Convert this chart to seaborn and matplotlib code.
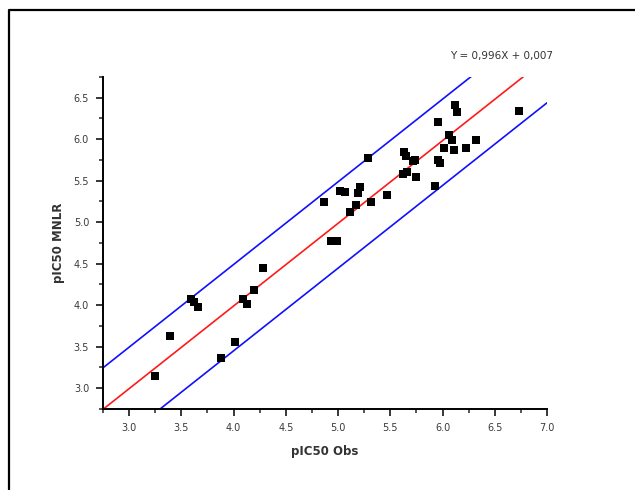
import matplotlib
matplotlib.use("Agg")
import matplotlib.pyplot as plt
from matplotlib.lines import Line2D
from matplotlib.ticker import MultipleLocator, FormatStrFormatter
import numpy as np
import pandas as pd
import seaborn as sns

# Observed vs predicted activities
pic50_obs = [3.25, 3.39, 3.59, 3.62, 3.66, 3.88, 4.01, 4.09, 4.13, 4.20, 4.28,
             4.87, 4.93, 4.99, 5.02, 5.07, 5.11, 5.17, 5.19, 5.21, 5.29, 5.32,
             5.47, 5.63, 5.65, 5.62, 5.66, 5.72, 5.74, 5.75, 5.93, 5.96, 5.96,
             5.98, 6.01, 6.06, 6.09, 6.11, 6.12, 6.14, 6.22, 6.32, 6.73]
pic50_mnlr = [3.15, 3.63, 4.08, 4.04, 3.98, 3.37, 3.56, 4.07, 4.01, 4.18, 4.45,
              5.24, 4.78, 4.78, 5.38, 5.37, 5.12, 5.21, 5.35, 5.42, 5.78, 5.24,
              5.33, 5.85, 5.80, 5.58, 5.60, 5.74, 5.75, 5.55, 5.44, 6.21, 5.75,
              5.71, 5.90, 6.05, 5.99, 5.87, 6.41, 6.33, 5.90, 5.99, 6.34]

# Regression line and confidence band offsets
slope = 0.996
intercept = 0.007
band_upper = 0.50
band_lower = -0.54
equation_text = "Y = 0,996X + 0,007"

x_label = "pIC50 Obs"
y_label = "pIC50 MNLR"
x_range = (2.75, 7.0)
y_range = (2.75, 6.75)
x_ticks = [3.0, 3.5, 4.0, 4.5, 5.0, 5.5, 6.0, 6.5, 7.0]
y_ticks = [3.0, 3.5, 4.0, 4.5, 5.0, 5.5, 6.0, 6.5]

sns.set_style("white")
plt.rcParams["font.family"] = ["DejaVu Sans"]

fig = plt.figure(figsize=(6.35, 4.9), dpi=100)
ax = fig.add_axes([103 / 635, 1 - 409 / 490, (547 - 103) / 635, (409 - 77) / 490])

df = pd.DataFrame({"obs": pic50_obs, "pred": pic50_mnlr})

xs = np.linspace(x_range[0], x_range[1], 200)
fit = slope * xs + intercept
lines = pd.DataFrame({"x": xs, "fit": fit,
                      "up": fit + band_upper, "lo": fit + band_lower})

sns.lineplot(data=lines, x="x", y="up", color="#1010ff", lw=1.2, ax=ax)
sns.lineplot(data=lines, x="x", y="lo", color="#1010ff", lw=1.2, ax=ax)
sns.lineplot(data=lines, x="x", y="fit", color="#ff1a1a", lw=1.2, ax=ax)
sns.scatterplot(data=df, x="obs", y="pred", marker="s", s=28, color="black",
                edgecolor="black", linewidth=0, ax=ax, zorder=5)

ax.set_xlim(*x_range)
ax.set_ylim(*y_range)

ax.set_xticks(x_ticks)
ax.set_yticks(y_ticks)
ax.xaxis.set_minor_locator(MultipleLocator(0.25))
ax.yaxis.set_minor_locator(MultipleLocator(0.25))
ax.xaxis.set_major_formatter(FormatStrFormatter("%.1f"))
ax.yaxis.set_major_formatter(FormatStrFormatter("%.1f"))

ax.tick_params(which="major", direction="out", length=5, width=1.3,
               labelsize=7, labelcolor="#3a3a3a", bottom=True, left=True, pad=5)
ax.tick_params(which="minor", direction="out", length=3, width=1.1,
               bottom=True, left=True)

for side in ("top", "right"):
    ax.spines[side].set_visible(False)
for side in ("left", "bottom"):
    ax.spines[side].set_linewidth(1.4)
    ax.spines[side].set_color("black")

ax.set_xlabel(x_label, fontsize=8.5, fontweight="bold", color="#333333",
              labelpad=9)
ax.set_ylabel(y_label, fontsize=8.5, fontweight="bold", color="#333333",
              labelpad=6)

fig.text(553 / 635, 1 - 56 / 490, equation_text, fontsize=7.5, color="#333333",
         ha="right", va="center")

# Outer frame (left and top edges)
fy = 1 - 10.5 / 490
fx = 9 / 635
fig.add_artist(Line2D([fx, fx, 1.0], [0.0, fy, fy], transform=fig.transFigure,
                      color="black", lw=1.6))

fig.savefig("out.png", dpi=100)
